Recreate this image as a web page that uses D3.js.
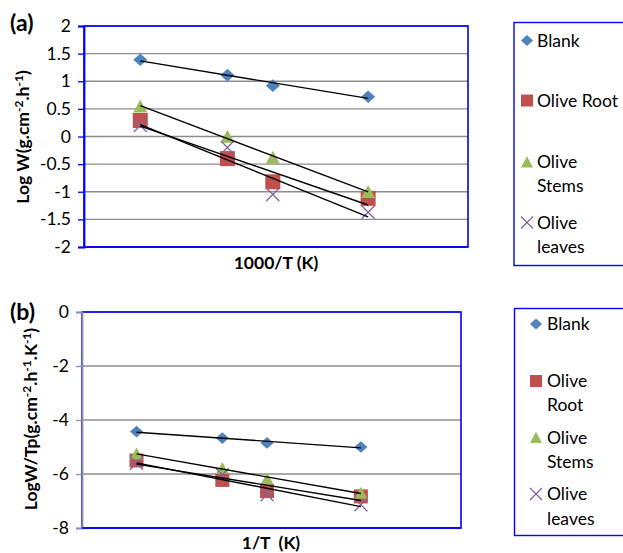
<style>body { margin: 0; }</style>
<svg width='623' height='553'></svg>
<script src="https://d3js.org/d3.v7.min.js"></script>

<script>
  // Series names and colors (Excel 2007 palette)
  const seriesNames = ['Blank', 'Olive Root', 'Olive Stems', 'Olive leaves'];
  const colors = ['#4F81BD', '#C0504D', '#9BBB59', '#8064A2'];
  const shapes = ['diamond', 'square', 'triangle', 'cross'];

  // Panel (a): Log W vs 1000/T
  const xA = [3.049, 3.145, 3.195, 3.300];
  const blankA = [1.39, 1.11, 0.92, 0.72];
  const rootA = [0.29, -0.40, -0.82, -1.12];
  const stemsA = [0.55, 0.00, -0.38, -1.00];
  const leavesA = [0.20, -0.20, -1.05, -1.37];
  const ticksA = [2, 1.5, 1, 0.5, 0, -0.5, -1, -1.5, -2];

  // Panel (b): Log W/Tp vs 1/T
  const xB = [0.003049, 0.003145, 0.003195, 0.003300];
  const blankB = [-4.43, -4.67, -4.85, -5.00];
  const rootB = [-5.50, -6.22, -6.63, -6.83];
  const stemsB = [-5.25, -5.78, -6.17, -6.70];
  const leavesB = [-5.60, -6.03, -6.77, -7.14];
  const ticksB = [0, -2, -4, -6, -8];

  const font = 'Lato, "Open Sans", sans-serif';
  const svg = d3.select('svg').style('background', '#fff').style('font-family', font);

  // least squares line, like the Excel linear trendline
  function fit(xs, ys) {
    const mx = d3.mean(xs), my = d3.mean(ys);
    const b = d3.sum(xs, (x, i) => (x - mx) * (ys[i] - my)) / d3.sum(xs, x => (x - mx) * (x - mx));
    return x => my + b * (x - mx);
  }

  // marker paths drawn around 0,0; s = width in px
  function marker(g, shape, color, s) {
    const h = s / 2;
    if (shape == 'cross') {
      g.append('path').attr('d', `M${-h},${-h}L${h},${h}M${-h},${h}L${h},${-h}`)
        .attr('stroke', color).attr('stroke-width', 1.3).attr('fill', 'none');
      return;
    }
    let d;
    if (shape == 'diamond') d = `M0,${-h * 0.9}L${h},0L0,${h * 0.9}L${-h},0Z`;
    if (shape == 'square') d = `M${-h},${-h}H${h}V${h}H${-h}Z`;
    if (shape == 'triangle') d = `M0,${-h * 0.95}L${h},${h * 0.9}L${-h},${h * 0.9}Z`;
    g.append('path').attr('d', d).attr('fill', color);
  }

  function panel(opt) {
    const x = d3.scaleLinear().domain(opt.xDomain).range([opt.left, opt.right]);
    const y = d3.scaleLinear().domain(opt.yDomain).range([opt.bottom, opt.top]);
    const g = svg.append('g');

    // gridlines
    g.selectAll()
      .data(opt.ticks).enter()
      .append('line')
      .attr('x1', opt.left).attr('x2', opt.right)
      .attr('y1', d => y(d)).attr('y2', d => y(d))
      .attr('stroke', '#8c8c8c').attr('stroke-width', 1.3);

    // frame
    g.append('rect')
      .attr('x', opt.left).attr('y', opt.top)
      .attr('width', opt.right - opt.left).attr('height', opt.bottom - opt.top)
      .attr('fill', 'none').attr('stroke', '#0000ff').attr('stroke-width', 1.6);

    // y axis
    const yAxis = d3.axisLeft(y).tickValues(opt.ticks).tickSize(6).tickPadding(7);
    const ax = g.append('g').attr('transform', 'translate(' + opt.left + ',0)').call(yAxis);
    ax.select('.domain').attr('stroke', opt.axisColor).attr('stroke-width', 1.8);
    ax.selectAll('.tick line').attr('stroke', opt.axisColor).attr('stroke-width', 1.3);
    ax.selectAll('.tick text').attr('font-size', 17.5).attr('font-family', font).attr('fill', '#000')
      .text(d => String(d));
    g.append('line')
      .attr('x1', opt.left).attr('x2', opt.right).attr('y1', opt.bottom).attr('y2', opt.bottom)
      .attr('stroke', '#0000ff').attr('stroke-width', 1.6);

    // markers
    opt.series.forEach((ys, s) => {
      ys.forEach((v, i) => {
        const m = g.append('g').attr('transform', 'translate(' + x(opt.xs[i]) + ',' + y(v) + ')');
        marker(m, shapes[s], colors[s], opt.markerSize[s]);
      });
    });

    // trendlines
    opt.series.forEach(ys => {
      const f = fit(opt.xs, ys);
      const x0 = d3.min(opt.xs), x1 = d3.max(opt.xs);
      g.append('line')
        .attr('x1', x(x0)).attr('y1', y(f(x0)))
        .attr('x2', x(x1)).attr('y2', y(f(x1)))
        .attr('stroke', '#000').attr('stroke-width', 1.4);
    });

    // titles
    g.append('text').text(opt.label)
      .attr('x', 10).attr('y', opt.labelY)
      .attr('font-size', 23).attr('font-weight', 'bold');
    g.append('text').text(opt.xTitle)
      .attr('x', opt.xTitleX).attr('y', opt.xTitleY)
      .attr('text-anchor', 'middle').attr('font-size', 17.5).attr('font-weight', 'bold')
      .style('white-space', 'pre');
    const yt = g.append('text')
      .attr('transform', 'translate(' + opt.yTitleX + ',' + opt.yTitleY + ') rotate(-90)')
      .attr('text-anchor', 'middle').attr('font-size', 17.5).attr('font-weight', 'bold');
    opt.yTitle.forEach(p => {
      yt.append('tspan').text(p[0])
        .attr('font-size', p[1] ? 12 : 17.5)
        .attr('dy', p[1] ? -6.5 : (p[2] ? 6.5 : 0));
    });

    // legend
    const lg = g.append('g');
    lg.append('rect')
      .attr('x', opt.legend.x).attr('y', opt.legend.y)
      .attr('width', 140).attr('height', opt.legend.h)
      .attr('fill', 'none').attr('stroke', '#0000ff').attr('stroke-width', 1.4);
    opt.legend.rows.forEach((lines, s) => {
      const m = lg.append('g').attr('transform', 'translate(' + opt.legend.mx + ',' + lines[0][1] + ')');
      marker(m, shapes[s], colors[s], 12);
      lines.forEach(l => {
        lg.append('text').text(l[0])
          .attr('x', opt.legend.tx).attr('y', l[1])
          .attr('dy', '0.35em').attr('font-size', 17.5);
      });
    });
  }

  panel({
    left: 84, right: 468, top: 26, bottom: 247,
    xDomain: [2.987, 3.410], yDomain: [-2, 2],
    ticks: ticksA, xs: xA,
    series: [blankA, rootA, stemsA, leavesA],
    markerSize: [14, 15, 14, 13],
    axisColor: '#0000ff',
    label: '(a)', labelY: 31,
    xTitle: '1000/T (K)', xTitleX: 276, xTitleY: 269,
    yTitle: [['Log W(g.cm'], ['-2', true], ['.h', false, true], ['-1', true], [')', false, true]],
    yTitleX: 29, yTitleY: 137,
    legend: {x: 514, y: 22.5, h: 243, mx: 527, tx: 537,
      rows: [[['Blank', 40.5]], [['Olive Root', 100.5]], [['Olive', 162], ['Stems', 186]], [['Olive', 222.5], ['leaves', 246.5]]]}
  });

  panel({
    left: 82, right: 461, top: 312, bottom: 528,
    xDomain: [0.002988, 0.003412], yDomain: [-8, 0],
    ticks: ticksB, xs: xB,
    series: [blankB, rootB, stemsB, leavesB],
    markerSize: [13, 14, 13, 13],
    axisColor: '#8a8ac4',
    label: '(b)', labelY: 320,
    xTitle: '1/T  (K)', xTitleX: 271, xTitleY: 549,
    yTitle: [['LogW/Tp(g.cm'], ['-2', true], ['.h', false, true], ['-1', true], ['.K', false, true], ['-1', true], [')', false, true]],
    yTitleX: 37, yTitleY: 419,
    legend: {x: 514.5, y: 308.5, h: 227, mx: 536, tx: 547,
      rows: [[['Blank', 324]], [['Olive', 381], ['Root', 405]], [['Olive', 437.5], ['Stems', 461.5]], [['Olive', 494], ['leaves', 519]]]}
  });
</script>
